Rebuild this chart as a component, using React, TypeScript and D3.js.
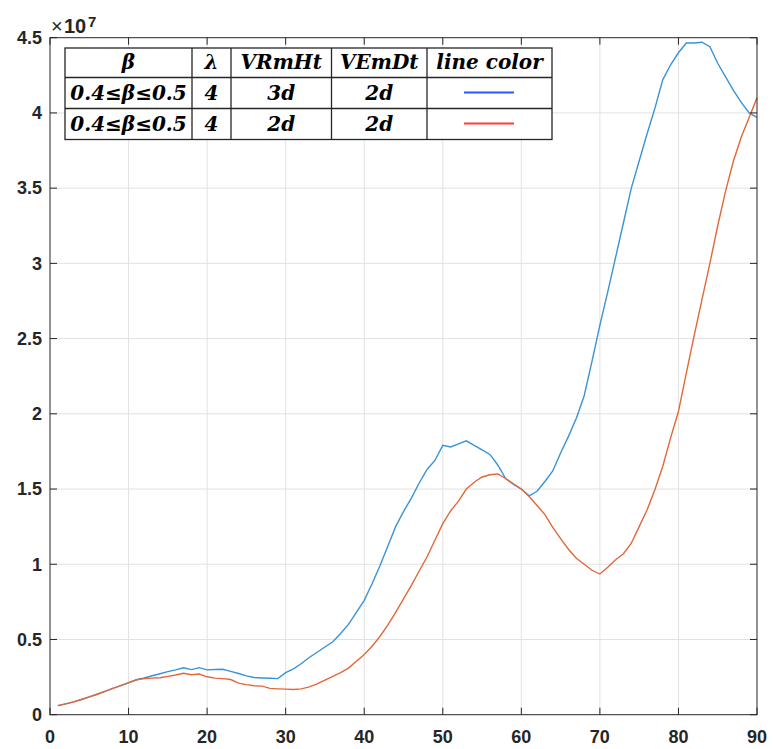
import React from 'react';
import * as d3 from 'd3';

// values are in units of 1e7
const blueValues = [
  0.060, 0.072, 0.085, 0.101, 0.118, 0.136, 0.155, 0.175, 0.193, 0.213,
  0.232, 0.244, 0.259, 0.272, 0.286, 0.298, 0.312, 0.300, 0.313, 0.298,
  0.300, 0.302, 0.288, 0.274, 0.258, 0.247, 0.244, 0.242, 0.240, 0.280,
  0.305, 0.340, 0.380, 0.415, 0.450, 0.485, 0.540, 0.600, 0.680, 0.760,
  0.870, 0.990, 1.120, 1.250, 1.350, 1.440, 1.540, 1.630, 1.690, 1.790,
  1.780, 1.800, 1.820, 1.790, 1.760, 1.730, 1.660, 1.570, 1.530, 1.500,
  1.455, 1.485, 1.550, 1.620, 1.740, 1.850, 1.970, 2.120, 2.350, 2.590,
  2.810, 3.040, 3.270, 3.500, 3.680, 3.860, 4.030, 4.220, 4.320, 4.400,
  4.465, 4.465, 4.470, 4.440, 4.330, 4.240, 4.150, 4.070, 4.000, 3.970,
];

const redValues = [
  0.060, 0.072, 0.085, 0.101, 0.118, 0.136, 0.155, 0.175, 0.193, 0.212,
  0.232, 0.240, 0.243, 0.246, 0.255, 0.264, 0.275, 0.266, 0.270, 0.252,
  0.243, 0.240, 0.234, 0.210, 0.200, 0.192, 0.190, 0.175, 0.172, 0.170,
  0.168, 0.172, 0.185, 0.205, 0.230, 0.255, 0.280, 0.310, 0.355, 0.400,
  0.455, 0.520, 0.595, 0.680, 0.770, 0.860, 0.955, 1.050, 1.160, 1.270,
  1.355, 1.420, 1.500, 1.545, 1.580, 1.595, 1.600, 1.570, 1.535, 1.500,
  1.450, 1.390, 1.330, 1.245, 1.170, 1.100, 1.040, 1.000, 0.960, 0.935,
  0.980, 1.030, 1.070, 1.140, 1.250, 1.360, 1.495, 1.650, 1.840, 2.015,
  2.270, 2.520, 2.760, 3.000, 3.250, 3.480, 3.680, 3.840, 3.970, 4.100,
];

const xTicks = [0, 10, 20, 30, 40, 50, 60, 70, 80, 90];
const yTicks = [0, 0.5, 1, 1.5, 2, 2.5, 3, 3.5, 4, 4.5];

const tableHeader = ['β', 'λ', 'VRmHt', 'VEmDt', 'line color'];
const tableRows = [
  ['0.4≤β≤0.5', '4', '3d', '2d'],
  ['0.4≤β≤0.5', '4', '2d', '2d'],
];
const legendColors = ['#2f55ff', '#ff3b3b'];

const W = 773;
const H = 749;
const margin = { left: 50, right: 16, top: 37.7, bottom: 34.3 };

const lineColors = ['#3a93d6', '#e2683a'];

export default function App() {
  const innerW = W - margin.left - margin.right;
  const innerH = H - margin.top - margin.bottom;

  const x = d3.scaleLinear().domain([0, 90]).range([margin.left, margin.left + innerW]);
  const y = d3.scaleLinear().domain([0, 4.5]).range([margin.top + innerH, margin.top]);

  const line = d3.line<number>()
    .x((_, i) => x(i + 1))
    .y(d => y(d));

  const left = x(0), right = x(90), top = y(4.5), bottom = y(0);
  const tick = 7;

  // table layout
  const colEdges = [65, 192, 231, 331.5, 427, 552];
  const rowEdges = [48, 77.5, 108.5, 139.5];
  const cellFont = {
    fontFamily: '"DejaVu Serif", serif',
    fontWeight: 'bold' as const,
    fontStyle: 'italic' as const,
    fontSize: 20,
    fill: '#000',
  };
  const sans = '"Liberation Sans", Arial, sans-serif';

  return (
    <svg width={W} height={H} style={{ position: 'absolute', left: 0, top: 0, background: '#fff' }}>
      <rect x={0} y={0} width={W} height={H} fill="#fff" />

      {/* grid */}
      <g stroke="#e2e2e2" strokeWidth={1}>
        {xTicks.slice(1, -1).map(t => (
          <line key={'gx' + t} x1={x(t)} x2={x(t)} y1={top} y2={bottom} />
        ))}
        {yTicks.slice(1, -1).map(t => (
          <line key={'gy' + t} x1={left} x2={right} y1={y(t)} y2={y(t)} />
        ))}
      </g>

      {/* curves */}
      <path d={line(blueValues) || ''} fill="none" stroke={lineColors[0]} strokeWidth={1.4} />
      <path d={line(redValues) || ''} fill="none" stroke={lineColors[1]} strokeWidth={1.4} />

      {/* frame and ticks */}
      <g stroke="#262626" strokeWidth={1} fill="none">
        <rect x={left} y={top} width={right - left} height={bottom - top} />
        {xTicks.map(t => (
          <g key={'tx' + t}>
            <line x1={x(t)} x2={x(t)} y1={bottom} y2={bottom - tick} />
            <line x1={x(t)} x2={x(t)} y1={top} y2={top + tick} />
          </g>
        ))}
        {yTicks.map(t => (
          <g key={'ty' + t}>
            <line x1={left} x2={left + tick} y1={y(t)} y2={y(t)} />
            <line x1={right} x2={right - tick} y1={y(t)} y2={y(t)} />
          </g>
        ))}
      </g>

      {/* tick labels */}
      <g fontFamily={sans} fontWeight="bold" fontSize={18} fill="#262626">
        {xTicks.map(t => (
          <text key={'lx' + t} x={x(t)} y={743} textAnchor="middle">{t}</text>
        ))}
        {yTicks.map(t => (
          <text key={'ly' + t} x={left - 8} y={y(t)} dy="0.35em" textAnchor="end">{String(t)}</text>
        ))}
      </g>

      {/* exponent */}
      <g fontFamily={sans} fill="#262626">
        <text x={51} y={32.5} style={{ fontSize: '20px' }}>×</text>
        <text x={64} y={32.5} style={{ fontSize: '20px', fontWeight: 'bold' }}>10</text>
        <text x={88} y={27} style={{ fontSize: '15px', fontWeight: 'bold' }}>7</text>
      </g>

      {/* table legend */}
      <g>
        <rect x={colEdges[0]} y={rowEdges[0]} width={colEdges[5] - colEdges[0]} height={rowEdges[3] - rowEdges[0]}
          fill="#fff" stroke="#262626" strokeWidth={1.3} />
        {colEdges.slice(1, -1).map((cx, i) => (
          <line key={'c' + i} x1={cx} x2={cx} y1={rowEdges[0]} y2={rowEdges[3]} stroke="#262626" strokeWidth={1.3} />
        ))}
        {rowEdges.slice(1, -1).map((ry, i) => (
          <line key={'r' + i} x1={colEdges[0]} x2={colEdges[5]} y1={ry} y2={ry} stroke="#262626" strokeWidth={1.3} />
        ))}
        {tableHeader.map((h, i) => (
          <text key={'h' + i} {...cellFont} x={(colEdges[i] + colEdges[i + 1]) / 2} y={(rowEdges[0] + rowEdges[1]) / 2}
            dy="0.33em" textAnchor="middle">{h}</text>
        ))}
        {tableRows.map((row, r) => (
          <g key={'row' + r}>
            {row.map((cell, c) => (
              <text key={c} {...cellFont} x={(colEdges[c] + colEdges[c + 1]) / 2}
                y={(rowEdges[r + 1] + rowEdges[r + 2]) / 2} dy="0.36em" textAnchor="middle">{cell}</text>
            ))}
            <line x1={464} x2={514} y1={(rowEdges[r + 1] + rowEdges[r + 2]) / 2 - 0.5}
              y2={(rowEdges[r + 1] + rowEdges[r + 2]) / 2 - 0.5} stroke={legendColors[r]} strokeWidth={2.2} />
          </g>
        ))}
      </g>
    </svg>
  );
}
